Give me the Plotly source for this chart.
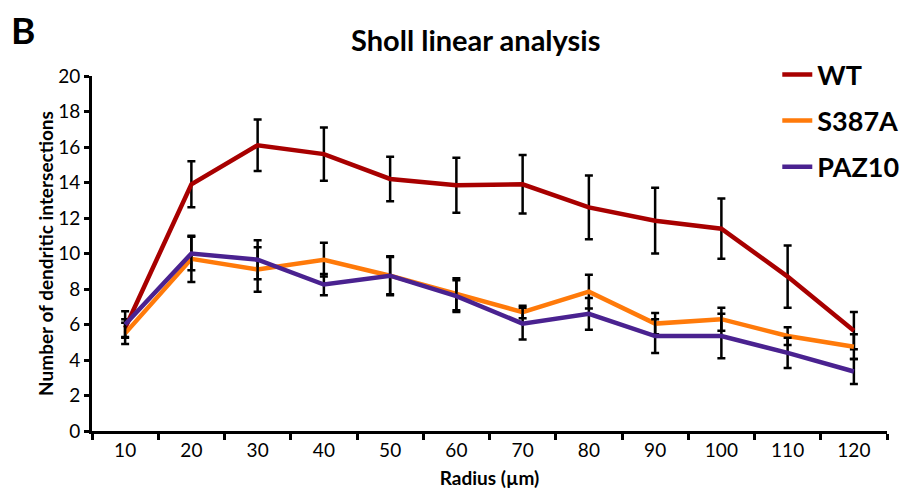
import plotly.graph_objects as go

radius = ["10", "20", "30", "40", "50", "60", "70", "80", "90", "100", "110", "120"]
wt = [5.8, 13.9, 16.1, 15.6, 14.2, 13.85, 13.9, 12.6, 11.85, 11.4, 8.7, 5.65]
wt_err = [0.5, 1.3, 1.45, 1.5, 1.25, 1.55, 1.65, 1.8, 1.85, 1.7, 1.75, 1.05]
s387a = [5.5, 9.7, 9.1, 9.65, 8.75, 7.7, 6.7, 7.85, 6.05, 6.3, 5.35, 4.75]
s387a_err = [0.6, 1.3, 1.25, 0.95, 1.1, 0.9, 0.35, 0.95, 0.6, 0.65, 0.5, 0.7]
paz10 = [6.0, 10.0, 9.65, 8.25, 8.75, 7.6, 6.05, 6.6, 5.35, 5.35, 4.4, 3.35]
paz10_err = [0.75, 0.95, 1.1, 0.6, 1.05, 0.9, 0.9, 0.9, 0.95, 1.25, 0.85, 0.7]

FONT = "Lato"
series = [
    ("WT", wt, wt_err, "#A80000"),
    ("S387A", s387a, s387a_err, "#FF7A0A"),
    ("PAZ10", paz10, paz10_err, "#4A2290"),
]

fig = go.Figure()
for i, (name, vals, err, col) in enumerate(series):
    fig.add_trace(go.Scatter(
        x=radius, y=vals, name=name, mode="lines",
        line=dict(color=col, width=4.5),
        legendgroup=name,
        error_y=dict(type="data", array=err, visible=True,
                     color="black", thickness=2.5, width=4),
    ))

# page body has an 8px default margin, so the figure is 8px smaller
fig.update_layout(
    width=900, height=488,
    margin=dict(l=84, r=21, t=68, b=65, autoexpand=False),
    plot_bgcolor="white", paper_bgcolor="white",
    font=dict(family=FONT, color="black"),
    showlegend=True,
    legend=dict(x=0.862, y=1.072, xanchor="left", yanchor="top",
                font=dict(size=27, family=FONT, weight="bold"),
                tracegroupgap=8, itemwidth=30, bgcolor="rgba(0,0,0,0)"),
    xaxis=dict(type="category", range=[-0.5, 11.5], tickson="boundaries",
               ticks="outside", ticklen=6, tickwidth=2.5, tickcolor="black",
               showline=True, linecolor="black", linewidth=3, showgrid=False,
               tickfont=dict(size=19, family=FONT), zeroline=False, automargin=False,
               title=dict(text="Radius (µm)", font=dict(size=19, family=FONT, weight="bold"), standoff=12)),
    yaxis=dict(range=[0, 20], dtick=2, tick0=0,
               ticks="outside", ticklen=5, tickwidth=2.5, tickcolor="black",
               showline=True, linecolor="black", linewidth=3, showgrid=False, zeroline=False,
               tickfont=dict(size=19, family=FONT), automargin=False,
               title=dict(text="Number of dendritic intersections",
                          font=dict(size=19, family=FONT, weight="bold"), standoff=0)),
    annotations=[
        dict(text="<b>Sholl linear analysis</b>", xref="paper", yref="paper",
             x=0.482, y=1.102, xanchor="center", yanchor="middle", showarrow=False,
             font=dict(size=29, family=FONT)),
        dict(text="<b>B</b>", xref="paper", yref="paper",
             x=-0.105, y=1.132, xanchor="left", yanchor="middle", showarrow=False,
             font=dict(size=37, family=FONT)),
    ],
)

fig.write_html("out.html")
